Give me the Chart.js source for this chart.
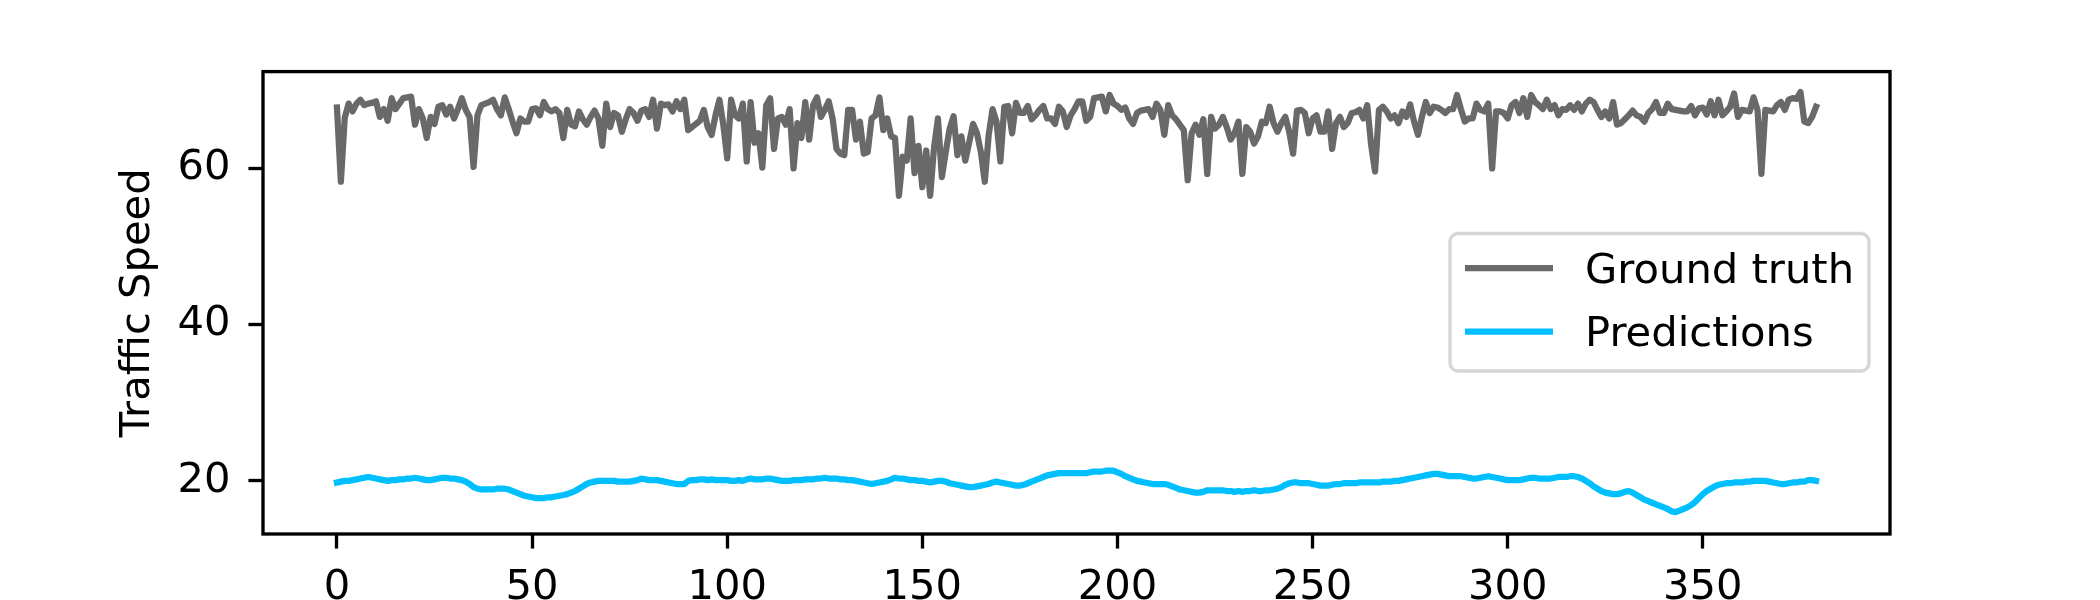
<!DOCTYPE html>
<html>
<head>
<meta charset="utf-8">
<title>Traffic Speed</title>
<script src="https://cdn.jsdelivr.net/npm/chart.js@4.4.1/dist/chart.umd.min.js"></script>
<style>
  html, body { margin: 0; padding: 0; background: #ffffff; }
  canvas { display: block; }
</style>
</head>
<body>
<canvas id="speedChart" width="2100" height="600" style="width:2100px;height:600px"></canvas>
<script>
// ===================== Data =====================
const groundTruth = [
  67.8, 58.3, 66.5, 68.3, 67.3, 68.3, 68.8, 68.1, 68.3, 68.4,
  68.6, 66.6, 67.6, 66.1, 69.0, 67.6, 68.3, 69.0, 69.1, 69.2,
  65.6, 67.6, 66.4, 63.9, 66.6, 65.7, 67.9, 68.1, 66.9, 67.9,
  66.4, 67.6, 69.0, 67.5, 66.6, 60.2, 66.8, 68.1, 68.3, 68.5,
  68.8, 67.6, 66.8, 69.1, 67.6, 66.0, 64.5, 66.4, 66.0, 66.0,
  67.6, 67.7, 66.8, 68.5, 67.6, 67.3, 67.6, 67.1, 63.9, 67.5,
  65.6, 65.4, 67.3, 66.3, 65.6, 66.6, 67.4, 66.4, 62.9, 68.3,
  65.3, 67.1, 66.8, 64.7, 66.3, 67.6, 67.1, 66.1, 67.4, 67.6,
  66.6, 68.8, 65.1, 68.3, 68.1, 68.2, 67.3, 68.6, 67.6, 68.8,
  64.9, 65.3, 65.7, 66.1, 67.5, 65.3, 64.3, 66.8, 68.8, 65.6,
  61.3, 68.8, 66.8, 66.4, 68.3, 60.9, 68.5, 63.3, 64.5, 60.1,
  68.1, 69.0, 62.5, 66.4, 66.6, 65.6, 67.6, 60.0, 65.8, 63.9,
  68.5, 63.7, 68.1, 69.1, 66.6, 67.5, 68.6, 66.4, 62.5, 61.9,
  61.7, 67.5, 67.5, 63.7, 66.0, 61.9, 62.1, 66.4, 66.8, 69.1,
  64.9, 66.4, 64.1, 63.9, 56.5, 61.5, 61.0, 66.4, 59.4, 62.9,
  57.6, 62.3, 56.5, 62.7, 66.4, 58.9, 62.1, 65.1, 66.7, 61.7,
  64.1, 61.0, 63.3, 65.7, 64.5, 62.1, 58.3, 64.3, 67.6, 66.0,
  60.9, 67.9, 68.0, 64.5, 68.4, 67.1, 67.1, 68.0, 66.3, 66.8,
  67.5, 68.0, 66.4, 66.4, 65.7, 67.9, 67.3, 65.3, 66.8, 67.6,
  68.6, 68.6, 66.1, 66.6, 69.0, 69.1, 69.2, 67.3, 69.4, 68.3,
  68.0, 67.5, 67.8, 66.4, 65.7, 67.1, 67.4, 67.5, 67.6, 66.6,
  68.3, 67.5, 64.3, 68.1, 66.8, 66.3, 65.6, 64.9, 58.5, 64.5,
  65.6, 64.3, 66.3, 59.3, 66.6, 65.1, 65.6, 66.6, 65.3, 63.7,
  64.5, 66.0, 59.3, 65.3, 64.7, 63.2, 64.1, 66.0, 65.8, 67.9,
  65.8, 64.7, 65.8, 66.6, 64.7, 61.9, 67.4, 67.5, 67.1, 64.5,
  66.4, 66.8, 64.7, 64.7, 67.3, 62.5, 65.8, 66.6, 65.3, 65.8,
  67.1, 67.2, 67.5, 66.4, 68.1, 63.0, 59.6, 67.5, 67.9, 67.3,
  66.4, 66.8, 65.8, 67.3, 66.6, 68.2, 66.0, 64.3, 66.6, 68.5,
  67.1, 67.9, 67.8, 67.5, 67.1, 67.6, 67.6, 69.4, 67.6, 66.0,
  66.4, 66.4, 68.3, 67.5, 67.3, 68.3, 60.0, 67.3, 67.3, 67.1,
  66.4, 68.1, 68.5, 67.1, 69.0, 66.6, 69.4, 68.5, 68.1, 67.6,
  68.8, 67.6, 68.1, 66.8, 67.6, 67.5, 68.1, 67.5, 68.3, 67.3,
  68.3, 68.8, 68.5, 67.5, 66.6, 67.3, 66.4, 68.5, 65.6, 65.8,
  66.3, 66.8, 67.4, 66.8, 66.6, 66.0, 67.1, 67.6, 68.5, 67.1,
  67.1, 68.3, 67.6, 67.5, 67.4, 67.3, 67.3, 68.0, 66.8, 67.7,
  67.8, 66.9, 68.6, 66.8, 68.8, 66.8, 67.3, 67.9, 69.6, 66.6,
  67.5, 67.4, 67.3, 69.1, 67.5, 59.3, 67.5, 67.4, 67.3, 68.1,
  68.5, 67.5, 68.8, 69.0, 68.9, 69.8, 66.0, 65.8, 66.6, 67.9
];

const predictions = [
  19.8, 19.9, 20.0, 20.0, 20.1, 20.2, 20.3, 20.4, 20.5, 20.4,
  20.3, 20.2, 20.1, 20.0, 20.1, 20.1, 20.2, 20.2, 20.3, 20.3,
  20.4, 20.3, 20.2, 20.1, 20.1, 20.2, 20.3, 20.4, 20.4, 20.3,
  20.3, 20.2, 20.1, 19.9, 19.6, 19.2, 19.0, 18.9, 18.9, 18.9,
  18.9, 19.0, 19.0, 19.0, 18.9, 18.7, 18.5, 18.3, 18.1, 18.0,
  17.9, 17.8, 17.8, 17.8, 17.9, 17.9, 18.0, 18.1, 18.2, 18.3,
  18.5, 18.7, 19.0, 19.3, 19.6, 19.8, 19.9, 20.0, 20.0, 20.0,
  20.0, 20.0, 19.9, 19.9, 19.9, 19.9, 20.0, 20.1, 20.3, 20.2,
  20.1, 20.1, 20.1, 20.0, 19.9, 19.8, 19.7, 19.6, 19.6, 19.6,
  20.0, 20.1, 20.1, 20.2, 20.2, 20.1, 20.2, 20.1, 20.1, 20.1,
  20.1, 20.0, 20.0, 20.1, 20.0, 20.2, 20.3, 20.2, 20.2, 20.2,
  20.3, 20.3, 20.2, 20.1, 20.0, 20.0, 20.0, 20.1, 20.1, 20.1,
  20.2, 20.2, 20.2, 20.3, 20.3, 20.4, 20.3, 20.3, 20.3, 20.2,
  20.2, 20.1, 20.1, 20.0, 19.9, 19.8, 19.7, 19.6, 19.7, 19.8,
  19.9, 20.0, 20.2, 20.4, 20.3, 20.3, 20.2, 20.1, 20.1, 20.0,
  20.0, 19.9, 19.8, 19.9, 20.0, 20.0, 19.9, 19.7, 19.6, 19.5,
  19.4, 19.3, 19.2, 19.2, 19.3, 19.4, 19.5, 19.6, 19.8, 19.9,
  19.8, 19.7, 19.6, 19.5, 19.4, 19.4, 19.5, 19.7, 19.9, 20.1,
  20.3, 20.5, 20.7, 20.8, 20.9, 21.0, 21.0, 21.0, 21.0, 21.0,
  21.0, 21.0, 21.0, 21.1, 21.2, 21.2, 21.2, 21.3, 21.3, 21.3,
  21.1, 20.9, 20.6, 20.4, 20.2, 20.0, 19.9, 19.8, 19.7, 19.6,
  19.6, 19.6, 19.6, 19.5, 19.3, 19.1, 18.9, 18.8, 18.7, 18.6,
  18.5, 18.5, 18.6, 18.8, 18.8, 18.8, 18.8, 18.8, 18.7, 18.7,
  18.6, 18.7, 18.6, 18.7, 18.7, 18.8, 18.7, 18.7, 18.8, 18.8,
  18.9, 19.0, 19.2, 19.5, 19.7, 19.8, 19.8, 19.7, 19.7, 19.7,
  19.6, 19.5, 19.4, 19.4, 19.4, 19.5, 19.6, 19.6, 19.7, 19.7,
  19.7, 19.7, 19.8, 19.8, 19.8, 19.8, 19.8, 19.8, 19.9, 19.9,
  19.9, 20.0, 20.0, 20.1, 20.2, 20.3, 20.4, 20.5, 20.6, 20.7,
  20.8, 20.9, 20.9, 20.8, 20.7, 20.6, 20.6, 20.6, 20.6, 20.5,
  20.4, 20.3, 20.3, 20.4, 20.5, 20.6, 20.5, 20.4, 20.3, 20.2,
  20.1, 20.1, 20.1, 20.1, 20.2, 20.3, 20.4, 20.4, 20.3, 20.3,
  20.3, 20.3, 20.4, 20.5, 20.5, 20.5, 20.6, 20.6, 20.5, 20.3,
  20.0, 19.7, 19.3, 19.0, 18.7, 18.5, 18.4, 18.3, 18.3, 18.4,
  18.6, 18.7, 18.5, 18.2, 17.9, 17.6, 17.4, 17.2, 17.0, 16.8,
  16.6, 16.4, 16.1, 16.0, 16.2, 16.4, 16.6, 16.9, 17.3, 17.8,
  18.3, 18.7, 19.0, 19.3, 19.5, 19.6, 19.7, 19.7, 19.8, 19.8,
  19.8, 19.9, 19.9, 20.0, 20.0, 20.0, 20.0, 19.9, 19.8, 19.7,
  19.6, 19.6, 19.7, 19.8, 19.8, 19.9, 19.9, 20.1, 20.1, 20.0
];

const seriesLabels = ["Ground truth", "Predictions"];
const xTicks = [0, 50, 100, 150, 200, 250, 300, 350];
const yTicks = [20, 40, 60];
const xRange = [-18.95, 397.95];
const yRange = [13.2, 72.4];
const yTitle = "Traffic Speed";

// ===================== Style =====================
const PX = 300 / 72;            // matplotlib points -> pixels (300 dpi)
const FONT = "'DejaVu Sans', 'Liberation Sans', sans-serif";
const FS = 10 * PX;             // 10pt

Chart.defaults.font.family = FONT;
Chart.defaults.font.size = FS;
Chart.defaults.color = "#000000";

// caixa do eixo (4 lados)
const frameBox = {
  id: "frameBox",
  afterDatasetsDraw(chart) {
    const { ctx, chartArea: a } = chart;
    ctx.save();
    ctx.strokeStyle = "#000000";
    ctx.lineWidth = 0.8 * PX;
    ctx.strokeRect(a.left, a.top, a.right - a.left, a.bottom - a.top);
    ctx.restore();
  }
};

// legenda estilo matplotlib, dentro da área do gráfico
const innerLegend = {
  id: "innerLegend",
  afterDraw(chart) {
    const { ctx } = chart;
    const box = { x: 1450, y: 233.5, w: 419, h: 137.5, r: 8 };
    const rows = [268, 331.5];
    ctx.save();
    ctx.beginPath();
    ctx.roundRect(box.x, box.y, box.w, box.h, box.r);
    ctx.fillStyle = "rgba(255,255,255,0.8)";
    ctx.fill();
    ctx.lineWidth = 0.8 * PX;
    ctx.strokeStyle = "rgba(204,204,204,0.8)";
    ctx.stroke();
    ctx.font = FS + "px " + FONT;
    ctx.textBaseline = "middle";
    ctx.textAlign = "left";
    chart.data.datasets.forEach((ds, i) => {
      const y = rows[i];
      ctx.beginPath();
      ctx.moveTo(1465, y);
      ctx.lineTo(1553, y);
      ctx.strokeStyle = ds.borderColor;
      ctx.lineWidth = ds.borderWidth;
      ctx.lineCap = "butt";
      ctx.stroke();
      ctx.fillStyle = "#000000";
      ctx.fillText(ds.label, 1585, y + 4);
    });
    ctx.restore();
  }
};

const toPoints = (arr) => arr.map((v, i) => ({ x: i, y: v }));

const tickGrid = {
  display: true,
  drawOnChartArea: false,
  drawTicks: true,
  tickLength: 3.5 * PX,
  tickWidth: 0.8 * PX,
  tickColor: "#000000"
};

new Chart(document.getElementById("speedChart").getContext("2d"), {
  type: "line",
  data: {
    datasets: [
      {
        label: seriesLabels[0],
        data: toPoints(groundTruth),
        borderColor: "#696969",
        borderWidth: 1.5 * PX,
        pointRadius: 0,
        tension: 0,
        borderJoinStyle: "round",
        borderCapStyle: "square",
        fill: false,
        order: 2
      },
      {
        label: seriesLabels[1],
        data: toPoints(predictions),
        borderColor: "#00BFFF",
        borderWidth: 1.5 * PX,
        pointRadius: 0,
        tension: 0,
        borderJoinStyle: "round",
        borderCapStyle: "square",
        fill: false,
        order: 1
      }
    ]
  },
  options: {
    responsive: false,
    animation: false,
    devicePixelRatio: 1,
    layout: { padding: { top: 71.6, right: 210, bottom: 0, left: 0 } },
    plugins: {
      legend: { display: false },
      tooltip: { enabled: false }
    },
    scales: {
      x: {
        type: "linear",
        position: "bottom",
        min: xRange[0],
        max: xRange[1],
        grid: tickGrid,
        border: { display: false },
        ticks: { padding: 3.5 * PX, maxRotation: 0, autoSkip: false, color: "#000000" },
        afterBuildTicks: (s) => { s.ticks = xTicks.map(v => ({ value: v })); },
        afterFit: (s) => { s.height = 66; }
      },
      y: {
        type: "linear",
        position: "left",
        min: yRange[0],
        max: yRange[1],
        grid: tickGrid,
        border: { display: false },
        ticks: { padding: 18, color: "#000000" },
        title: { display: true, text: yTitle, color: "#000000", padding: { top: 113, bottom: 0 } },
        afterBuildTicks: (s) => { s.ticks = yTicks.map(v => ({ value: v })); },
        afterFit: (s) => { s.width = 263; }
      }
    }
  },
  plugins: [frameBox, innerLegend]
});
</script>
</body>
</html>
